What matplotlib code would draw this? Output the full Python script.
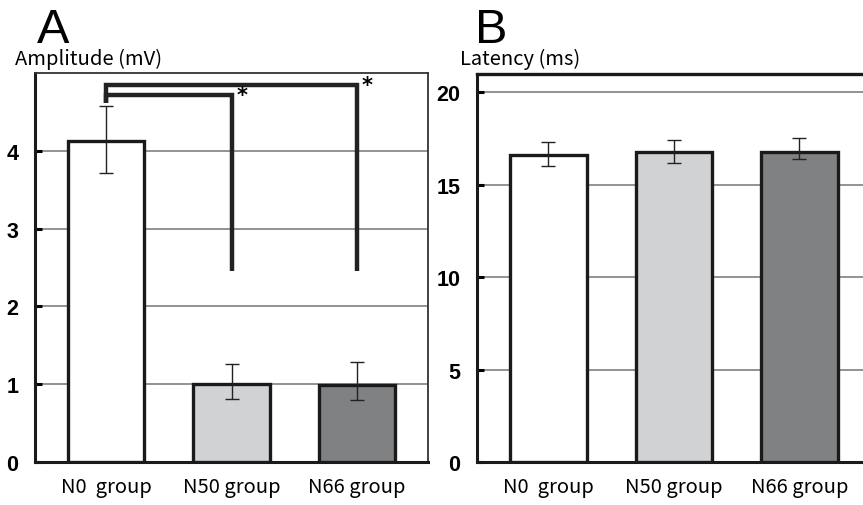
import matplotlib
matplotlib.use("Agg")
import matplotlib.pyplot as plt

plt.rcParams['font.family'] = ['Noto Sans CJK JP', 'DejaVu Sans']

groups = ['N0  group', 'N50 group', 'N66 group']
bar_colors = ['#ffffff', '#d1d2d4', '#808183']

amp_mean = [4.13, 1.00, 0.99]
amp_lo = [3.72, 0.81, 0.80]
amp_hi = [4.57, 1.26, 1.28]

lat_mean = [16.6, 16.8, 16.8]
lat_lo = [16.0, 16.2, 16.4]
lat_hi = [17.3, 17.45, 17.55]

# significance brackets: (from group, to group, bracket height, drop-to level)
sig_pairs = [(0, 1, 4.72, 2.45), (0, 2, 4.85, 2.45)]
sig_start = 4.61

W, H = 863, 506


def px_axes(fig, left, right, top, bottom):
    return fig.add_axes([left / W, (H - bottom) / H, (right - left) / W, (bottom - top) / H])


def draw_bars(ax, means, lo, hi, yticks):
    x = range(len(means))
    err = [[m - l for m, l in zip(means, lo)], [h - m for m, h in zip(means, hi)]]
    ax.bar(x, means, width=0.61, color=bar_colors, edgecolor='#1a1a1a', linewidth=2.4, zorder=3)
    ax.errorbar(x, means, yerr=err, fmt='none', ecolor='#222222', elinewidth=1.0,
                capsize=5, capthick=1.0, zorder=4)
    ax.set_yticks(yticks)
    ax.yaxis.grid(True, color='#8a8a8a', linewidth=1.3, zorder=0)
    ax.set_axisbelow(True)
    ax.set_xticks(list(x))
    ax.set_xticklabels(groups, fontsize=14.5)
    ax.tick_params(axis='x', length=0, pad=10)
    ax.tick_params(axis='y', direction='in', length=5, width=2.2, pad=12)
    for lab in ax.get_yticklabels():
        lab.set_fontfamily('Liberation Sans')
        lab.set_fontweight('bold')
        lab.set_fontsize(15.5)
    for s in ['left', 'bottom']:
        ax.spines[s].set_linewidth(2.2)
        ax.spines[s].set_color('#1a1a1a')


fig = plt.figure(figsize=(W / 100, H / 100), dpi=100)

# panel A
axA = px_axes(fig, 35, 428, 74, 463)
draw_bars(axA, amp_mean, amp_lo, amp_hi, [0, 1, 2, 3, 4])
axA.set_xlim(-0.566, 2.566)
axA.set_ylim(0, 5)
for s in ['top', 'right']:
    axA.spines[s].set_linewidth(1.3)
    axA.spines[s].set_color('#333333')

for i, j, yb, yd in sig_pairs:
    axA.plot([i, i, j, j], [sig_start, yb, yb, yd], color='#222222', linewidth=3.2,
             solid_joinstyle='miter', solid_capstyle='butt', zorder=5)
    axA.text(j + 0.04, yb, '*', fontsize=15, fontweight='bold', ha='left', va='center',
             family='DejaVu Sans', zorder=6)

fig.text(37 / W, 1 - 43 / H, 'A', fontsize=35, family='Liberation Sans', ha='left', va='baseline')
fig.text(15 / W, 1 - 65 / H, 'Amplitude (mV)', fontsize=14.5, ha='left', va='baseline')

# panel B
axB = px_axes(fig, 477, 866, 75, 463)
draw_bars(axB, lat_mean, lat_lo, lat_hi, [0, 5, 10, 15, 20])
axB.set_xlim(-0.568, 2.53)
axB.set_ylim(0, 21)
axB.spines['top'].set_linewidth(2.4)
axB.spines['top'].set_color('#1a1a1a')
axB.spines['right'].set_visible(False)

fig.text(475 / W, 1 - 43 / H, 'B', fontsize=35, family='Liberation Sans', ha='left', va='baseline')
fig.text(460 / W, 1 - 65 / H, 'Latency (ms)', fontsize=14.5, ha='left', va='baseline')

fig.savefig('out.png', dpi=100)
